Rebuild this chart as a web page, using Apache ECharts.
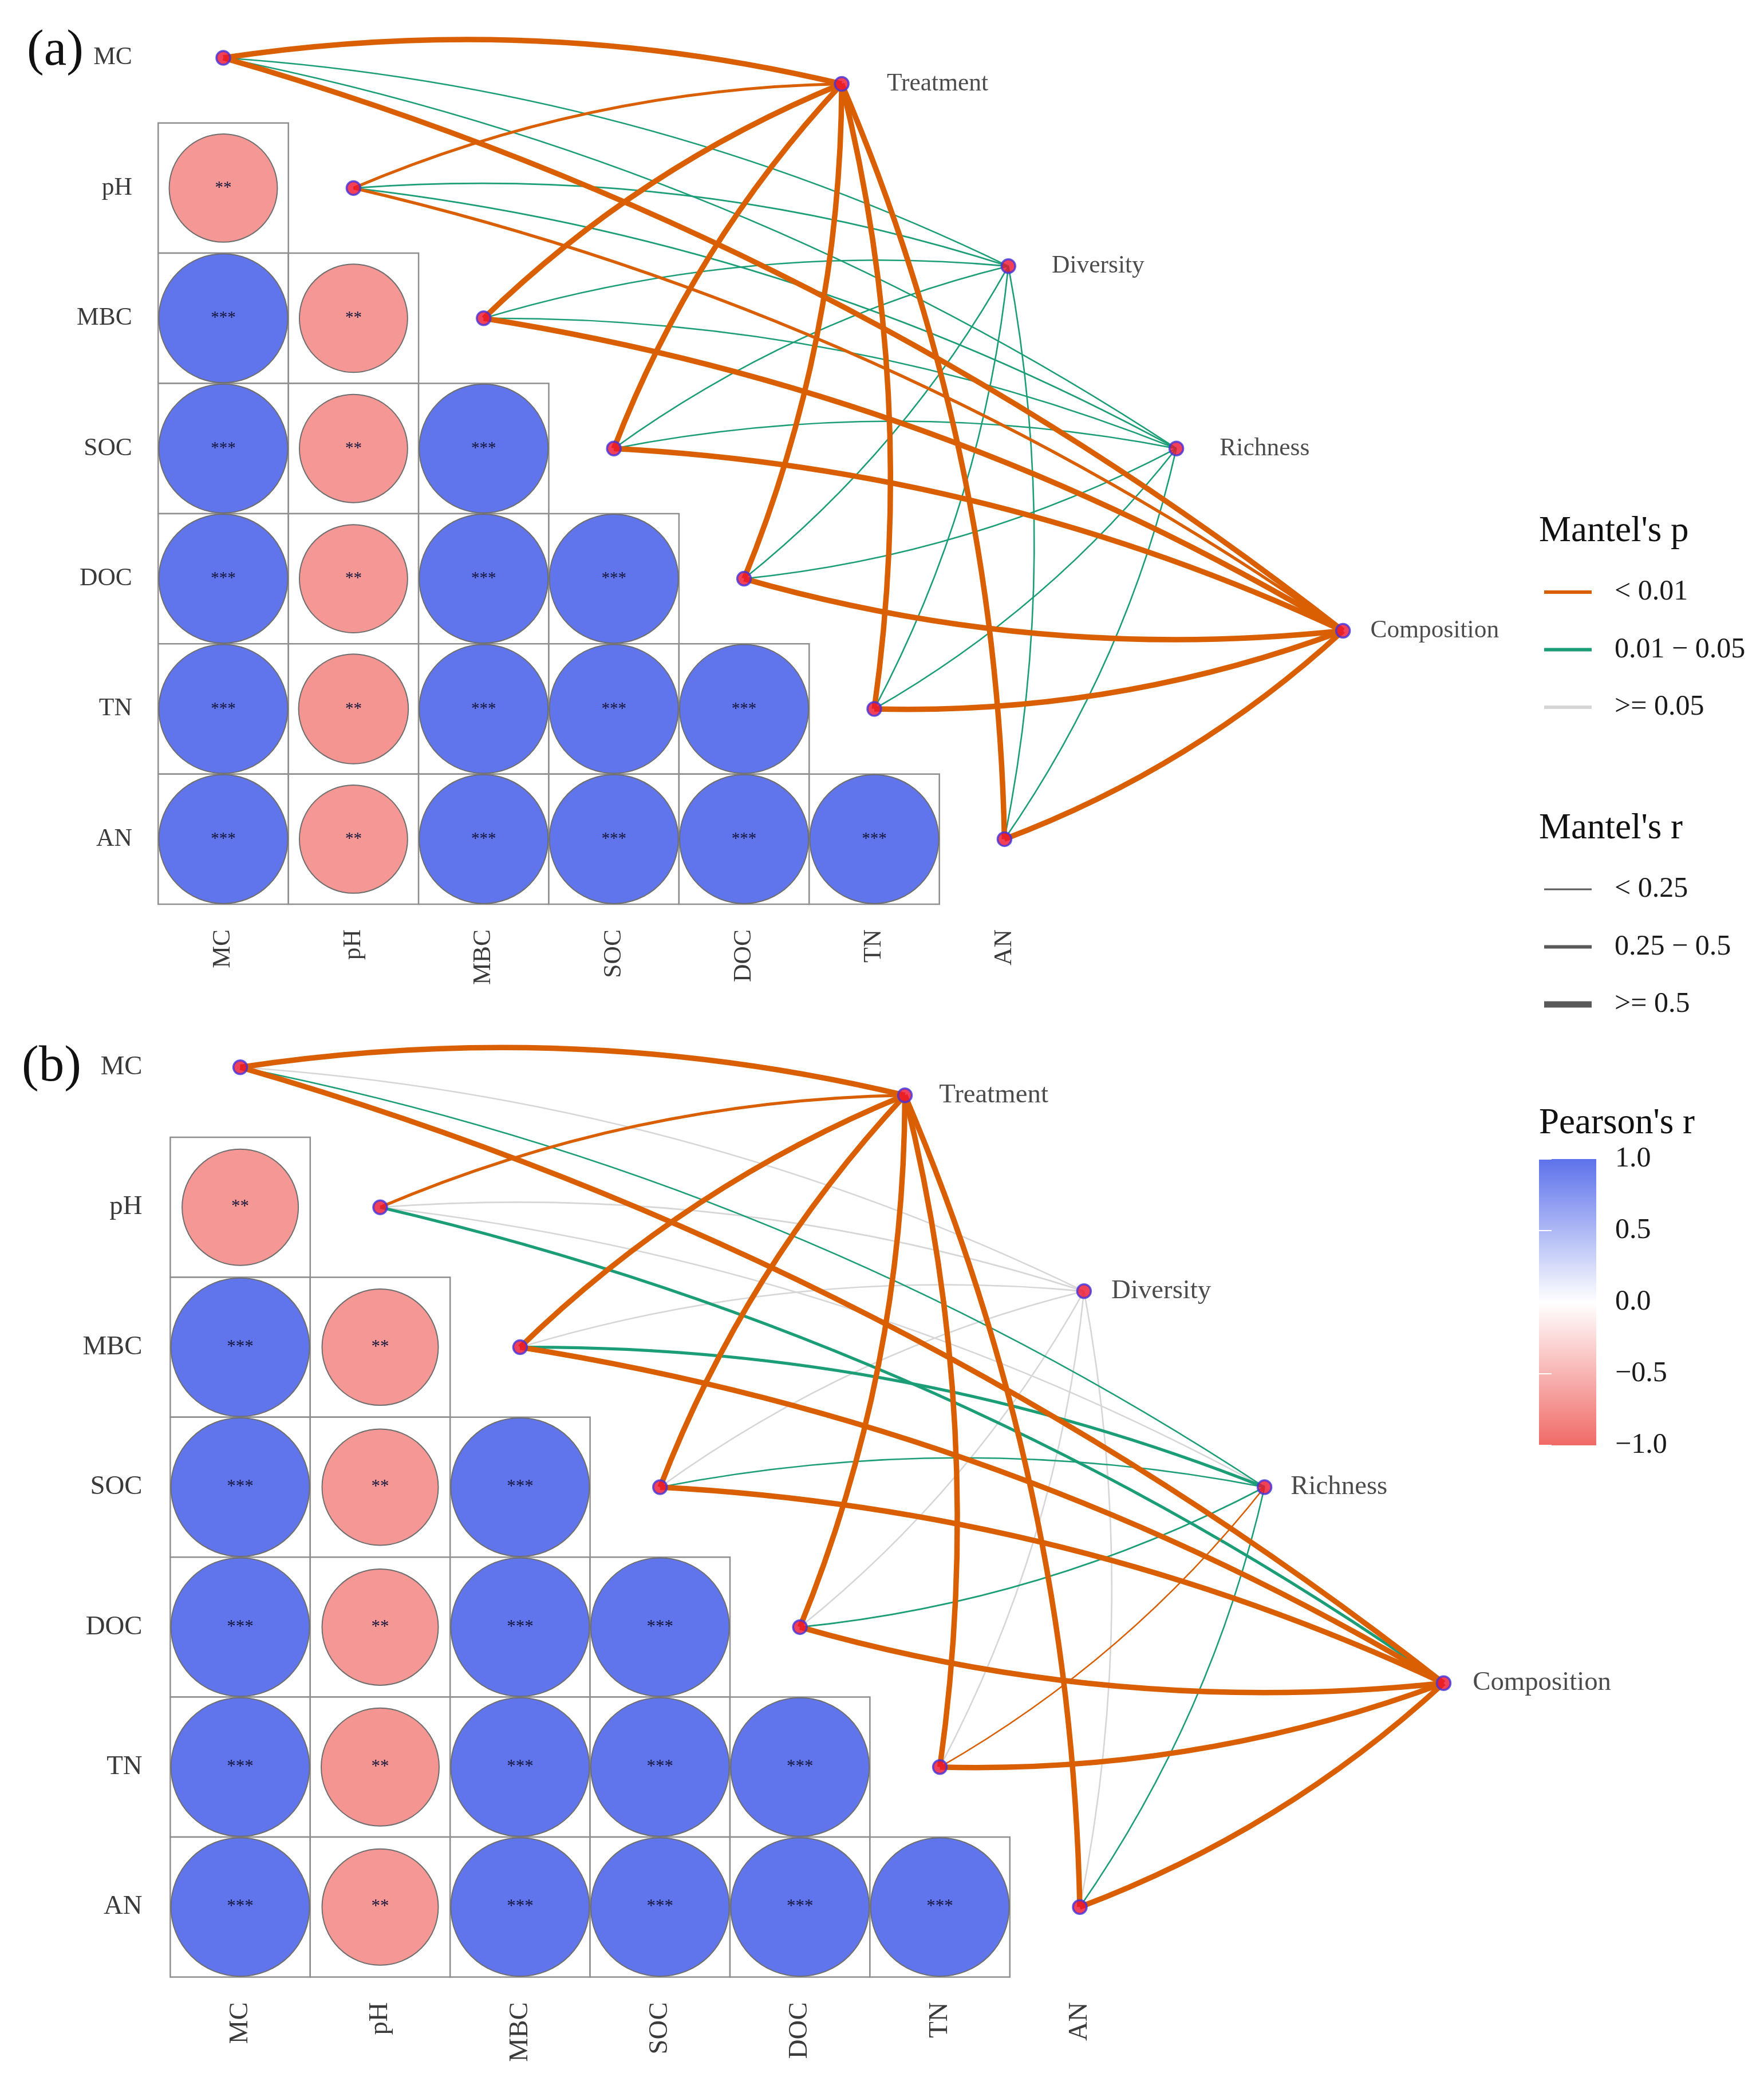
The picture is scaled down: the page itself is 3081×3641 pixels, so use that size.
<!DOCTYPE html>
<html>
<head>
<meta charset="utf-8">
<script src="https://cdn.jsdelivr.net/npm/echarts@6/dist/echarts.min.js"></script>
<style>
html,body{margin:0;padding:0;background:#ffffff;}
#chart{width:3081px;height:3641px;}
</style>
</head>
<body>
<div id="chart"></div>
<script>
// ================= DATA =================
const envVars = ['MC', 'pH', 'MBC', 'SOC', 'DOC', 'TN', 'AN'];
const specNames = ['Treatment', 'Diversity', 'Richness', 'Composition'];

// Pearson's r, lower triangle: row i+1 (pH..AN) vs columns MC..
const pearsonA = [
  [-0.69],
  [0.98, -0.69],
  [0.98, -0.69, 0.98],
  [0.98, -0.69, 0.98, 0.98],
  [0.98, -0.71, 0.98, 0.98, 0.98],
  [0.98, -0.69, 0.98, 0.98, 0.98, 0.98]
];
const sigA = [
  ['**'],
  ['***', '**'],
  ['***', '**', '***'],
  ['***', '**', '***', '***'],
  ['***', '**', '***', '***', '***'],
  ['***', '**', '***', '***', '***', '***']
];
const pearsonB = [
  [-0.69],
  [0.98, -0.69],
  [0.98, -0.69, 0.98],
  [0.98, -0.69, 0.98, 0.98],
  [0.98, -0.71, 0.98, 0.98, 0.98],
  [0.98, -0.69, 0.98, 0.98, 0.98, 0.98]
];
const sigB = [
  ['**'],
  ['***', '**'],
  ['***', '**', '***'],
  ['***', '**', '***', '***'],
  ['***', '**', '***', '***', '***'],
  ['***', '**', '***', '***', '***', '***']
];

// Mantel test classes: rows = specNames, columns = envVars
const mantelPA = [
  ['<0.01', '<0.01', '<0.01', '<0.01', '<0.01', '<0.01', '<0.01'],
  ['0.01-0.05', '0.01-0.05', '0.01-0.05', '0.01-0.05', '0.01-0.05', '0.01-0.05', '0.01-0.05'],
  ['0.01-0.05', '0.01-0.05', '0.01-0.05', '0.01-0.05', '0.01-0.05', '0.01-0.05', '0.01-0.05'],
  ['<0.01', '<0.01', '<0.01', '<0.01', '<0.01', '<0.01', '<0.01']
];
const mantelRA = [
  ['>=0.5', '0.25-0.5', '>=0.5', '>=0.5', '>=0.5', '>=0.5', '>=0.5'],
  ['<0.25', '<0.25', '<0.25', '<0.25', '<0.25', '<0.25', '<0.25'],
  ['<0.25', '<0.25', '<0.25', '<0.25', '<0.25', '<0.25', '<0.25'],
  ['>=0.5', '0.25-0.5', '>=0.5', '>=0.5', '>=0.5', '>=0.5', '>=0.5']
];
const mantelPB = [
  ['<0.01', '<0.01', '<0.01', '<0.01', '<0.01', '<0.01', '<0.01'],
  ['>=0.05', '>=0.05', '>=0.05', '>=0.05', '>=0.05', '>=0.05', '>=0.05'],
  ['0.01-0.05', '>=0.05', '0.01-0.05', '0.01-0.05', '0.01-0.05', '<0.01', '0.01-0.05'],
  ['<0.01', '0.01-0.05', '<0.01', '<0.01', '<0.01', '<0.01', '<0.01']
];
const mantelRB = [
  ['>=0.5', '0.25-0.5', '>=0.5', '>=0.5', '>=0.5', '>=0.5', '>=0.5'],
  ['<0.25', '<0.25', '<0.25', '<0.25', '<0.25', '<0.25', '<0.25'],
  ['<0.25', '<0.25', '0.25-0.5', '<0.25', '<0.25', '<0.25', '<0.25'],
  ['>=0.5', '0.25-0.5', '>=0.5', '>=0.5', '>=0.5', '>=0.5', '>=0.5']
];

const colorbarTicks = [-1, -0.5, 0, 0.5, 1];
const pLegend = [['<0.01', '< 0.01'], ['0.01-0.05', '0.01 \u2212 0.05'], ['>=0.05', '>= 0.05']];
const rLegend = [['<0.25', '< 0.25'], ['0.25-0.5', '0.25 \u2212 0.5'], ['>=0.5', '>= 0.5']];

// ================= LAYOUT / STYLE =================
const FONT = '"Liberation Serif", "Times New Roman", serif';
const specLayout = [[4.75, 0.2], [6.03, 1.6], [7.32, 3.0], [8.6, 4.4]];
const X_MIN = -0.7, X_MAX = 9.0, Y_MIN = -0.4, Y_MAX = 6.5;
const PANEL_A = { origin: [390, 101], unit: 227.4, font: 43.5, star: 29, gaps: [65, 62, 62, 34] };
const PANEL_B = { origin: [419.6, 1863.8], unit: 244.4, font: 46.8, star: 31, gaps: [46, 34, 32, 37] };
const BLUE = '#5D72EB', WHITE = '#FFFFFF', RED = '#F06A66';
const P_COLOR = { '<0.01': '#D95F02', '0.01-0.05': '#1B9E77', '>=0.05': '#D6D6D6' };
const P_ORDER = { '<0.01': 3, '0.01-0.05': 2, '>=0.05': 1 };
const R_WIDTH = { '<0.25': 2.6, '0.25-0.5': 5.2, '>=0.5': 9.5 };
const R_LEGEND_WIDTH = { '<0.25': 3, '0.25-0.5': 6, '>=0.5': 11 };
const CURV = 0.097;

function gridFor(p) {
  return {
    left: p.origin[0] + X_MIN * p.unit,
    top: p.origin[1] + Y_MIN * p.unit,
    width: (X_MAX - X_MIN) * p.unit,
    height: (Y_MAX - Y_MIN) * p.unit,
    containLabel: false,
    outerBoundsMode: 'none'
  };
}

function buildCells(pearson, sig) {
  const out = [];
  pearson.forEach((row, i) => row.forEach((v, j) => out.push({ value: [j, i + 1, v], sig: sig[i][j] })));
  return out;
}

function buildEdges(pCls, rCls) {
  const out = [];
  specNames.forEach((s, si) => envVars.forEach((e, ei) => {
    const p = pCls[si][ei], r = rCls[si][ei];
    out.push({
      coords: [[ei, ei], specLayout[si]],
      order: P_ORDER[p],
      lineStyle: {
        color: P_COLOR[p],
        width: R_WIDTH[r],
        opacity: 1,
        curveness: ei < 4 ? CURV : -CURV
      }
    });
  }));
  out.sort((a, b) => a.order - b.order);
  return out;
}

function cellRender(params, api) {
  const c = api.value(0), r = api.value(1);
  const p0 = api.coord([c - 0.5, r - 0.5]);
  const p1 = api.coord([c + 0.5, r + 0.5]);
  return {
    type: 'rect',
    shape: { x: p0[0], y: p0[1], width: p1[0] - p0[0], height: p1[1] - p0[1] },
    style: { fill: '#ffffff', stroke: '#8E8E8E', lineWidth: 2.5 }
  };
}

function circleRender(cells, starSize) {
  return function (params, api) {
    const x = api.value(0), y = api.value(1), v = api.value(2);
    const c = api.coord([x, y]);
    const s = api.size([1, 1]);
    const rad = Math.min(s[0], s[1]) / 2 * Math.sqrt(Math.abs(v));
    return {
      type: 'group',
      children: [
        { type: 'circle', shape: { cx: c[0], cy: c[1], r: rad },
          style: { fill: api.visual('color'), stroke: '#6E6E6E', lineWidth: 2 } },
        { type: 'text', x: c[0], y: c[1],
          style: { text: cells[params.dataIndex].sig, fontSize: starSize, fontFamily: FONT,
                   fill: '#15153a', align: 'center', verticalAlign: 'middle' } }
      ]
    };
  };
}

const cellsA = buildCells(pearsonA, sigA);
const cellsB = buildCells(pearsonB, sigB);
const edgesA = buildEdges(mantelPA, mantelRA);
const edgesB = buildEdges(mantelPB, mantelRB);

function axisPair(gridIndex, p) {
  const lbl = { fontFamily: FONT, fontSize: p.font, color: '#3a3a3a' };
  return {
    x: {
      gridIndex, type: 'value', min: X_MIN, max: X_MAX,
      axisLine: { show: false }, axisTick: { show: false }, splitLine: { show: false },
      axisLabel: Object.assign({
        customValues: envVars.map((_, i) => i),
        formatter: v => envVars[Math.round(v)] || '',
        rotate: 90, margin: 44
      }, lbl)
    },
    y: {
      gridIndex, type: 'value', min: Y_MIN, max: Y_MAX, inverse: true,
      axisLine: { show: false }, axisTick: { show: false }, splitLine: { show: false },
      axisLabel: Object.assign({
        customValues: envVars.map((_, i) => i),
        formatter: v => envVars[Math.round(v)] || '',
        margin: 0
      }, lbl)
    }
  };
}

const axA = axisPair(0, PANEL_A);
const axB = axisPair(1, PANEL_B);

function nodeSeries(idx, p, edges, cells, namePrefix) {
  const nodeStyle = { color: '#EC1230', borderColor: '#4233DF', borderWidth: 3.5 };
  return [
    { type: 'custom', name: namePrefix + 'cells', xAxisIndex: idx, yAxisIndex: idx, z: 1,
      renderItem: cellRender, data: cells.map(c => c.value), silent: true },
    { type: 'custom', name: namePrefix + 'circles', xAxisIndex: idx, yAxisIndex: idx, z: 2,
      renderItem: circleRender(cells, p.star), data: cells.map(c => c.value),
      dimensions: ['col', 'row', 'r'], silent: true },
    { type: 'lines', name: namePrefix + 'mantel', coordinateSystem: 'cartesian2d',
      xAxisIndex: idx, yAxisIndex: idx, z: 3, silent: true,
      lineStyle: { opacity: 1 }, data: edges },
    { type: 'scatter', name: namePrefix + 'env', xAxisIndex: idx, yAxisIndex: idx, z: 4,
      symbol: 'circle', symbolSize: 24, itemStyle: nodeStyle, silent: true,
      data: envVars.map((e, i) => ({ name: e, value: [i, i] })) },
    { type: 'scatter', name: namePrefix + 'spec', xAxisIndex: idx, yAxisIndex: idx, z: 4,
      symbol: 'circle', symbolSize: 24, itemStyle: nodeStyle, silent: true,
      label: { show: true, position: 'right', formatter: '{b}', fontFamily: FONT,
               fontSize: p.font, color: '#1e1e1e' },
      data: specNames.map((s, i) => ({ name: s, value: specLayout[i], label: { distance: p.gaps[i] } })) }
  ];
}

const seriesA = nodeSeries(0, PANEL_A, edgesA, cellsA, 'a-');
const seriesB = nodeSeries(1, PANEL_B, edgesB, cellsB, 'b-');

const colorbarSeries = {
  type: 'custom', name: 'colorbar', xAxisIndex: 2, yAxisIndex: 2, z: 1, silent: true,
  data: [[0, 0]],
  renderItem: function (params, api) {
    const p0 = api.coord([0, 1]);
    const p1 = api.coord([1, -1]);
    return {
      type: 'rect',
      shape: { x: p0[0], y: p0[1], width: p1[0] - p0[0], height: p1[1] - p0[1] },
      style: { fill: new echarts.graphic.LinearGradient(0, 0, 0, 1, [
        { offset: 0, color: BLUE }, { offset: 0.5, color: WHITE }, { offset: 1, color: RED }
      ]) }
    };
  }
};

// legend graphics
const LEG_X = 2697, LEG_X2 = 2780, LEG_TX = 2820;
const legendGraphics = [];
function addText(text, x, y, size, color) {
  legendGraphics.push({ type: 'text', x, y, silent: true,
    style: { text, fontSize: size, fontFamily: FONT, fill: color, align: 'left', verticalAlign: 'middle' } });
}
addText("Mantel's p", 2688, 928, 63, '#111111');
pLegend.forEach((it, i) => {
  const y = 1034 + i * 100.5;
  legendGraphics.push({ type: 'line', silent: true, shape: { x1: LEG_X, y1: y, x2: LEG_X2, y2: y },
    style: { stroke: P_COLOR[it[0]], lineWidth: 6 } });
  addText(it[1], LEG_TX, y, 50, '#1a1a1a');
});
addText("Mantel's r", 2688, 1447, 63, '#111111');
rLegend.forEach((it, i) => {
  const y = 1553 + i * 100.5;
  legendGraphics.push({ type: 'line', silent: true, shape: { x1: LEG_X, y1: y, x2: LEG_X2, y2: y },
    style: { stroke: '#595959', lineWidth: R_LEGEND_WIDTH[it[0]] } });
  addText(it[1], LEG_TX, y, 50, '#1a1a1a');
});
addText("Pearson's r", 2688, 1962, 63, '#111111');
// panel tags
legendGraphics.push({ type: 'text', x: 47, y: 90, silent: true,
  style: { text: '(a)', fontSize: 89, fontFamily: FONT, fill: '#111', align: 'left', verticalAlign: 'middle' } });
legendGraphics.push({ type: 'text', x: 38, y: 1864, silent: true,
  style: { text: '(b)', fontSize: 89, fontFamily: FONT, fill: '#111', align: 'left', verticalAlign: 'middle' } });

const option = {
  backgroundColor: '#ffffff',
  animation: false,
  grid: [
    gridFor(PANEL_A),
    gridFor(PANEL_B),
    { left: 2688, top: 2024, width: 100, height: 500, containLabel: false, outerBoundsMode: 'none' }
  ],
  xAxis: [
    axA.x, axB.x,
    { gridIndex: 2, type: 'value', min: 0, max: 1, show: false }
  ],
  yAxis: [
    axA.y, axB.y,
    { gridIndex: 2, type: 'value', min: -1, max: 1, interval: 0.5, position: 'right', z: 10,
      axisLine: { show: false }, splitLine: { show: false },
      axisTick: { show: true, inside: true, length: 22, lineStyle: { color: '#ffffff', width: 2 } },
      axisLabel: { customValues: colorbarTicks, margin: 33, fontFamily: FONT, fontSize: 50, color: '#1a1a1a',
        formatter: v => (v < 0 ? '\u2212' : '') + Math.abs(v).toFixed(1) } },
    { gridIndex: 2, type: 'value', min: -1, max: 1, interval: 0.5, position: 'left', z: 10,
      axisLine: { show: false }, splitLine: { show: false }, axisLabel: { show: false },
      axisTick: { show: true, inside: true, length: 22, lineStyle: { color: '#ffffff', width: 2 } } }
  ],
  visualMap: [{
    type: 'continuous', show: false, min: -1, max: 1, dimension: 2,
    seriesIndex: [1, 6],
    inRange: { color: [RED, WHITE, BLUE] }
  }],
  graphic: legendGraphics,
  series: [].concat(seriesA, seriesB, [colorbarSeries])
};

const chart = echarts.init(document.getElementById('chart'), null, { renderer: 'canvas', width: 3081, height: 3641 });
chart.setOption(option);
</script>
</body>
</html>
